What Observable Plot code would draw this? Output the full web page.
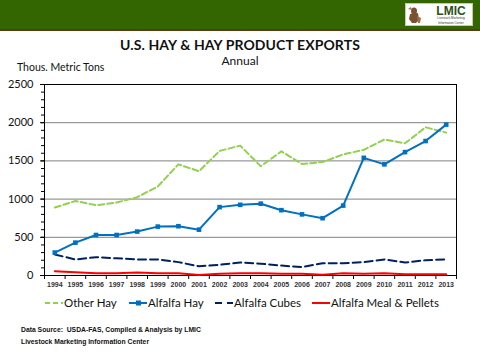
<!DOCTYPE html>
<html>
<head>
<meta charset="utf-8">
<script src="https://cdn.jsdelivr.net/npm/d3@7"></script>
<script src="https://cdn.jsdelivr.net/npm/@observablehq/plot@0.6"></script>
<style>
  html, body { margin: 0; padding: 0; background: #fff; }
  #wrap { position: relative; width: 480px; height: 360px; overflow: hidden; background: #fff; font-family: Lato, "Open Sans", sans-serif; }
  #banner { position: absolute; left: 0; top: 0; width: 480px; height: 29px; background: #336600; border-bottom: 2px solid #5b3b17; }
  #logo { position: absolute; left: 405px; top: 3px; width: 68px; height: 23px; background: #fff; border: 1px solid #c9c9b0; box-sizing: border-box; }
  .abs { position: absolute; white-space: nowrap; }
  #title { left: 0; width: 480px; top: 36px; text-align: center; font-size: 14px; font-weight: bold; color: #111; letter-spacing: 0.1px; }
  #subtitle { left: 0; width: 480px; top: 53px; text-align: center; font-size: 12px; color: #111; }
  #ylab { left: 17px; top: 61px; font-size: 10.5px; color: #111; }
  #chart { position: absolute; left: 0; top: 0; }
  #legend { left: 0; top: 294px; font-size: 11.5px; color: #111; }
  .item { position: absolute; white-space: nowrap; }
  .foot { font-family: "Liberation Sans", Arial, sans-serif; font-weight: bold; font-size: 6.8px; color: #111; }
</style>
</head>
<body>
<div id="wrap">
  <div id="banner"></div>
  <div id="logo">
    <svg width="66" height="21" style="position:absolute;left:0;top:0">
      <g fill="#7a5230">
        <ellipse cx="8" cy="7" rx="3" ry="3.5"/>
        <path d="M4 10 L12 9 L13 16 L10 19 L6 19 L3 15 Z"/>
        <path d="M2 5 L5 3 L6 6 Z" fill="#a07850"/>
        <path d="M11 12 L15 14 L14 19 L12 19 Z" fill="#9a7048"/>
      </g>
      <text x="45" y="10.5" text-anchor="middle" font-family="Liberation Sans, Arial, sans-serif" font-weight="bold" font-size="12" fill="#2f4f1a">LMIC</text>
      <text x="45" y="15" text-anchor="middle" font-family="Liberation Sans, Arial, sans-serif" font-size="3.1" fill="#333">Livestock Marketing</text>
      <text x="45" y="19.5" text-anchor="middle" font-family="Liberation Sans, Arial, sans-serif" font-size="3.1" fill="#333">Information Center</text>
    </svg>
  </div>
  <div id="title" class="abs">U.S. HAY &amp; HAY PRODUCT EXPORTS</div>
  <div id="subtitle" class="abs">Annual</div>
  <div id="ylab" class="abs">Thous. Metric Tons</div>
  <div id="chart"></div>
  <div id="legend" class="abs"></div>
  <div class="abs foot" style="left:21px;top:326px">Data Source:&nbsp; USDA-FAS, Compiled &amp; Analysis by LMIC</div>
  <div class="abs foot" style="left:21px;top:338px">Livestock Marketing Information Center</div>
</div>
<script>
const years = [1994,1995,1996,1997,1998,1999,2000,2001,2002,2003,2004,2005,2006,2007,2008,2009,2010,2011,2012,2013];
const otherHay     = [890,975,920,955,1025,1165,1455,1365,1630,1700,1430,1625,1460,1485,1585,1645,1780,1730,1940,1870];
const alfalfaHay   = [300,430,530,530,575,640,645,600,895,925,940,855,800,750,915,1540,1455,1615,1760,1975];
const alfalfaCubes = [275,210,240,225,210,210,175,120,140,170,155,130,110,160,160,175,210,170,200,210];
const mealPellets  = [57,44,30,30,39,30,30,5,22,30,30,22,22,9,30,22,30,17,17,17];
const seriesNames  = ["Other Hay","Alfalfa Hay","Alfalfa Cubes","Alfalfa Meal & Pellets"];
const yTicks = [0,500,1000,1500,2000,2500];

const rows = (vals) => years.map((y,i) => ({year: y, value: vals[i]}));
const xBounds = years.map(y => y - 0.5).concat([years[years.length-1] + 0.5]);
const yMinor = d3.range(0, 2501, 100);

const chart = Plot.plot({
  width: 480, height: 360,
  marginTop: 84, marginBottom: 85, marginLeft: 44, marginRight: 24,
  style: {background: "transparent", fontFamily: "Lato, 'Open Sans', sans-serif", color: "#000"},
  x: {type: "linear", domain: [years[0] - 0.5, years[years.length-1] + 0.5]},
  y: {domain: [0, 2500]},
  marks: [
    Plot.gridY([500,1000,1500,2000], {stroke: "#808080", strokeOpacity: 1, strokeWidth: 1}),
    Plot.frame({stroke: "#000", strokeWidth: 1}),
    Plot.axisY(yMinor, {tickSize: 3, tickFormat: () => "", label: null, stroke: "#000"}),
    Plot.axisY(yTicks, {tickSize: 4, tickPadding: 7, fontSize: 11, tickFormat: d => String(d), label: null, stroke: "#000", fill: "#111"}),
    Plot.axisX(xBounds, {tickSize: 4, tickFormat: () => "", label: null, stroke: "#000"}),
    Plot.axisX(years, {tickSize: 0, tickPadding: 7, fontSize: 7, fontWeight: "bold", fontFamily: "'Liberation Sans', Arial, sans-serif", tickFormat: d => String(d), label: null, fill: "#333"}),
    Plot.line(rows(mealPellets), {x: "year", y: "value", stroke: "#ff0000", strokeWidth: 2}),
    Plot.line(rows(alfalfaCubes), {x: "year", y: "value", stroke: "#002060", strokeWidth: 2, strokeDasharray: "8,4"}),
    Plot.line(rows(otherHay), {x: "year", y: "value", stroke: "#92d050", strokeWidth: 2, strokeDasharray: "6,3"}),
    Plot.line(rows(alfalfaHay), {x: "year", y: "value", stroke: "#0070c0", strokeWidth: 2}),
    Plot.dot(rows(alfalfaHay), {x: "year", y: "value", symbol: "square", r: 2.6, fill: "#0070c0", stroke: "none"})
  ]
});
document.getElementById("chart").appendChild(chart);

// legend
const legendSpec = [
  {name: seriesNames[0], color: "#92d050", dash: "5,3", x: 45, marker: false},
  {name: seriesNames[1], color: "#0070c0", dash: null, x: 129, marker: true},
  {name: seriesNames[2], color: "#002060", dash: "7,5", x: 215, marker: false},
  {name: seriesNames[3], color: "#ff0000", dash: null, x: 312, marker: false}
];
const legend = document.getElementById("legend");
legendSpec.forEach(s => {
  const it = document.createElement("div");
  it.className = "item";
  it.style.left = s.x + "px";
  it.style.top = "0px";
  it.innerHTML = `<svg width="19" height="14" style="vertical-align:middle"><line x1="0" x2="18" y1="8" y2="8" stroke="${s.color}" stroke-width="2" ${s.dash ? `stroke-dasharray="${s.dash}"` : ""}/>${s.marker ? `<rect x="7" y="5.5" width="5" height="5" fill="${s.color}"/>` : ""}</svg><span style="vertical-align:middle">${s.name}</span>`;
  legend.appendChild(it);
});
</script>
</body>
</html>
